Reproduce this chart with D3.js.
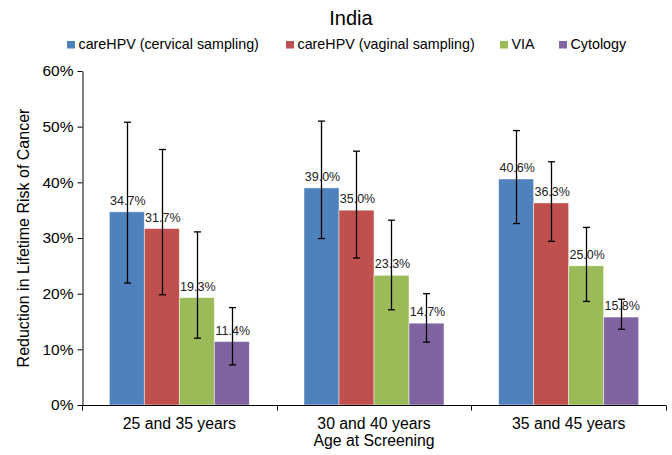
<!DOCTYPE html>
<html><head><meta charset="utf-8">
<script src="https://cdn.jsdelivr.net/npm/d3@7"></script>
<style>body{margin:0;background:#fff}svg{font-family:"Liberation Sans",Arial,sans-serif}</style>
</head><body><svg id="c" width="672" height="455"></svg>
<script>
const categories = ["25 and 35 years","30 and 40 years","35 and 45 years"];
const seriesNames = ["careHPV (cervical sampling)","careHPV (vaginal sampling)","VIA","Cytology"];
const colors = ["#4F81BD","#C0504D","#9BBB59","#8064A2"];
const values = [[34.7,39.0,40.6],[31.7,35.0,36.3],[19.3,23.3,25.0],[11.4,14.7,15.8]];
const errLow = [[21.9,29.9,32.6],[19.8,26.4,29.4],[12.0,17.1,18.6],[7.2,11.3,13.6]];
const errHigh = [[50.8,51.0,49.3],[45.9,45.6,43.7],[31.1,33.2,31.9],[17.5,20.0,19.0]];
const yTicks = [0,10,20,30,40,50,60];

const svg = d3.select("#c");
const L=82, R=666, T=71, B=405;
const x0 = d3.scaleBand().domain(categories).range([L,R]).paddingInner(0).paddingOuter(0);
const inner = d3.scaleBand().domain(seriesNames).range([(x0.bandwidth()-140)/2,(x0.bandwidth()+140)/2]);
const y = d3.scaleLinear().domain([0,60]).range([B,T]);

// title
svg.append("text").attr("x",351).attr("y",25).attr("text-anchor","middle").attr("font-size",20).attr("fill","#000").text("India");

// legend
const legX=[67,286,500,559];
seriesNames.forEach((s,i)=>{
  svg.append("rect").attr("x",legX[i]).attr("y",41).attr("width",8).attr("height",7.5).attr("fill",colors[i]);
  svg.append("text").attr("x",legX[i]+11.5).attr("y",49).attr("font-size",14.3).attr("fill","#000").text(s);
});

// bars
categories.forEach((c,ci)=>{
  seriesNames.forEach((s,si)=>{
    const bx = x0(c)+inner(s), bw = inner.bandwidth();
    const v = values[si][ci];
    svg.append("rect").attr("x",bx).attr("y",y(v)).attr("width",bw).attr("height",y(0)-y(v))
      .attr("fill",colors[si]).attr("stroke","rgba(255,255,255,0.6)").attr("stroke-width",0.8);
  });
});
// labels
categories.forEach((c,ci)=>{
  seriesNames.forEach((s,si)=>{
    const cx = x0(c)+inner(s)+inner.bandwidth()/2;
    const v = values[si][ci];
    svg.append("text").attr("x",cx+1).attr("y",y(v)-7).attr("text-anchor","middle").attr("font-size",12.5).attr("fill","#222")
      .text(v.toFixed(1)+"%");
  });
});
// error bars
categories.forEach((c,ci)=>{
  seriesNames.forEach((s,si)=>{
    const cx = Math.round(x0(c)+inner(s)+inner.bandwidth()/2)+0.5;
    const lo=y(errLow[si][ci]), hi=y(errHigh[si][ci]);
    const e = svg.append("g").attr("stroke","#000").attr("stroke-width",1.3);
    e.append("line").attr("x1",cx).attr("x2",cx).attr("y1",lo).attr("y2",hi);
    e.append("line").attr("x1",cx-3.5).attr("x2",cx+3.5).attr("y1",lo).attr("y2",lo);
    e.append("line").attr("x1",cx-3.5).attr("x2",cx+3.5).attr("y1",hi).attr("y2",hi);
  });
});

// y axis
const ya = svg.append("g").attr("transform",`translate(${L+0.5},0)`)
  .call(d3.axisLeft(y).tickValues(yTicks).tickFormat(d=>d+"%").tickSize(5).tickSizeOuter(0));
ya.select(".domain").attr("stroke","#000");
ya.selectAll(".tick line").attr("stroke","#000");
ya.selectAll("text").attr("font-size",15.5).attr("fill","#000").attr("font-family","Liberation Sans, Arial, sans-serif").attr("x",-9);

// x axis
const xa = svg.append("g").attr("transform",`translate(0,${B+0.5})`);
xa.append("line").attr("x1",L).attr("x2",R).attr("stroke","#000");
const bounds = categories.map(c=>x0(c)).concat([R]);
bounds.forEach(b=>xa.append("line").attr("x1",Math.round(b)+0.5).attr("x2",Math.round(b)+0.5).attr("y1",0).attr("y2",5).attr("stroke","#000"));
categories.forEach(c=>{
  xa.append("text").attr("x",x0(c)+x0.bandwidth()/2).attr("y",23).attr("text-anchor","middle").attr("font-size",15.8).attr("fill","#000").text(c);
});

// axis titles
svg.append("text").attr("x",374).attr("y",446).attr("text-anchor","middle").attr("font-size",15.8).attr("fill","#000").text("Age at Screening");
svg.append("text").attr("transform","translate(29,238) rotate(-90)").attr("text-anchor","middle").attr("font-size",16).attr("fill","#000").text("Reduction in Lifetime Risk of Cancer");
</script></body></html>
